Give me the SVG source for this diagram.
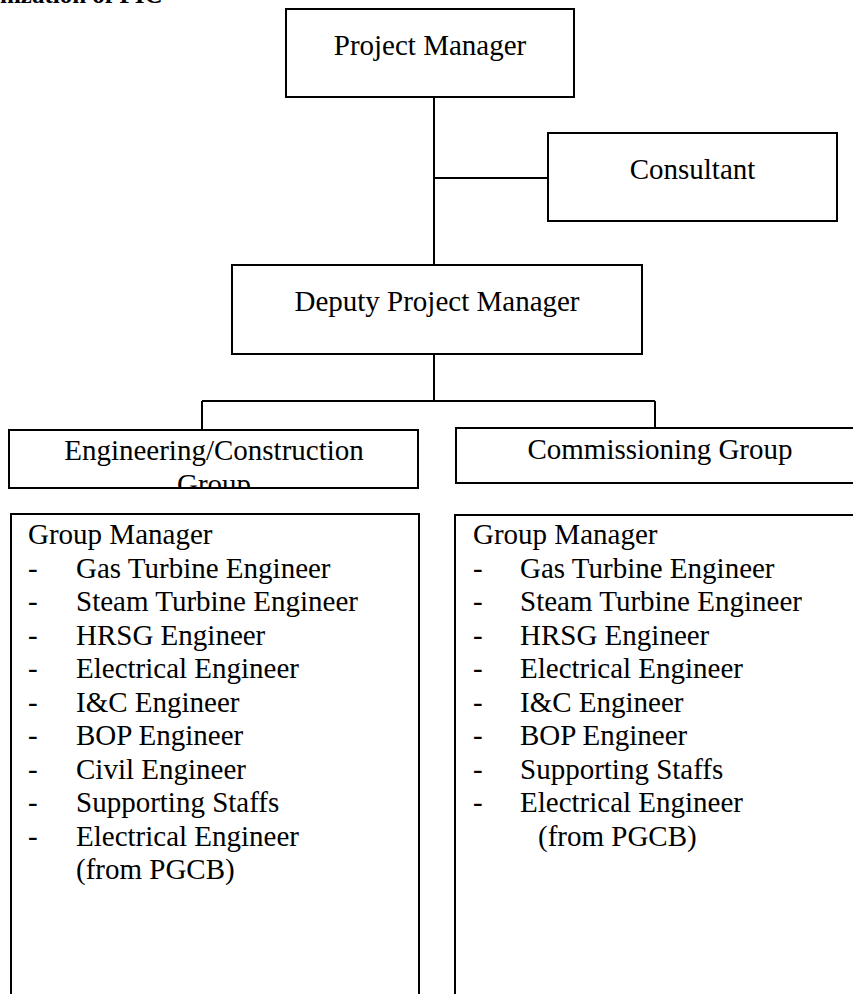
<svg xmlns="http://www.w3.org/2000/svg" width="853" height="994" viewBox="0 0 853 994">
<style>
  .box { fill: #ffffff; stroke: #000000; stroke-width: 2; }
  .ln { stroke: #000000; stroke-width: 2; fill: none; }
  .t { font-family: "Liberation Serif", "Times New Roman", serif; font-size: 29px; fill: #000000; }
  .c { text-anchor: middle; }
  .h { font-family: "Liberation Serif", "Times New Roman", serif; font-size: 25px; font-weight: bold; fill: #000000; }
</style>
<defs>
  <clipPath id="engClip"><rect x="10" y="431" width="407" height="56"/></clipPath>
</defs>
<rect width="853" height="994" fill="#ffffff"/>
<text class="h" x="0" y="3">nization of PIC</text>

<g id="connectors">
  <path class="ln" d="M434 97 V265"/>
  <path class="ln" d="M434 178 H548"/>
  <path class="ln" d="M434 354 V401"/>
  <path class="ln" d="M202 401 H655"/>
  <path class="ln" d="M202 401 V430"/>
  <path class="ln" d="M655 401 V428"/>
</g>

<g id="project-manager">
  <rect class="box" x="286" y="9" width="288" height="88"/>
  <text class="t c" x="430" y="55">Project Manager</text>
</g>

<g id="consultant">
  <rect class="box" x="548" y="133" width="289" height="88"/>
  <text class="t c" x="692.5" y="179">Consultant</text>
</g>

<g id="deputy-project-manager">
  <rect class="box" x="232" y="265" width="410" height="89"/>
  <text class="t c" x="437" y="311">Deputy Project Manager</text>
</g>

<g id="engineering-construction-group">
  <rect class="box" x="9" y="430" width="409" height="58"/>
  <g clip-path="url(#engClip)">
    <text class="t c" x="214" y="460">Engineering/Construction</text>
    <text class="t c" x="214" y="493.5">Group</text>
  </g>
</g>

<g id="commissioning-group">
  <rect class="box" x="456" y="428" width="420" height="55"/>
  <text class="t c" x="660" y="459">Commissioning Group</text>
</g>

<g id="engineering-members">
  <rect class="box" x="11" y="514" width="408" height="500"/>
  <text class="t" x="28" y="544">Group Manager</text>
  <g class="t">
    <text x="28" y="577.5">-</text><text x="76" y="577.5">Gas Turbine Engineer</text>
    <text x="28" y="611">-</text><text x="76" y="611">Steam Turbine Engineer</text>
    <text x="28" y="644.5">-</text><text x="76" y="644.5">HRSG Engineer</text>
    <text x="28" y="678">-</text><text x="76" y="678">Electrical Engineer</text>
    <text x="28" y="711.5">-</text><text x="76" y="711.5">I&amp;C Engineer</text>
    <text x="28" y="745">-</text><text x="76" y="745">BOP Engineer</text>
    <text x="28" y="778.5">-</text><text x="76" y="778.5">Civil Engineer</text>
    <text x="28" y="812">-</text><text x="76" y="812">Supporting Staffs</text>
    <text x="28" y="845.5">-</text><text x="76" y="845.5">Electrical Engineer</text>
    <text x="76" y="879">(from PGCB)</text>
  </g>
</g>

<g id="commissioning-members">
  <rect class="box" x="455" y="515" width="420" height="500"/>
  <text class="t" x="473" y="544">Group Manager</text>
  <g class="t">
    <text x="473" y="577.5">-</text><text x="520" y="577.5">Gas Turbine Engineer</text>
    <text x="473" y="611">-</text><text x="520" y="611">Steam Turbine Engineer</text>
    <text x="473" y="644.5">-</text><text x="520" y="644.5">HRSG Engineer</text>
    <text x="473" y="678">-</text><text x="520" y="678">Electrical Engineer</text>
    <text x="473" y="711.5">-</text><text x="520" y="711.5">I&amp;C Engineer</text>
    <text x="473" y="745">-</text><text x="520" y="745">BOP Engineer</text>
    <text x="473" y="778.5">-</text><text x="520" y="778.5">Supporting Staffs</text>
    <text x="473" y="812">-</text><text x="520" y="812">Electrical Engineer</text>
    <text x="538" y="845.5">(from PGCB)</text>
  </g>
</g>
</svg>
